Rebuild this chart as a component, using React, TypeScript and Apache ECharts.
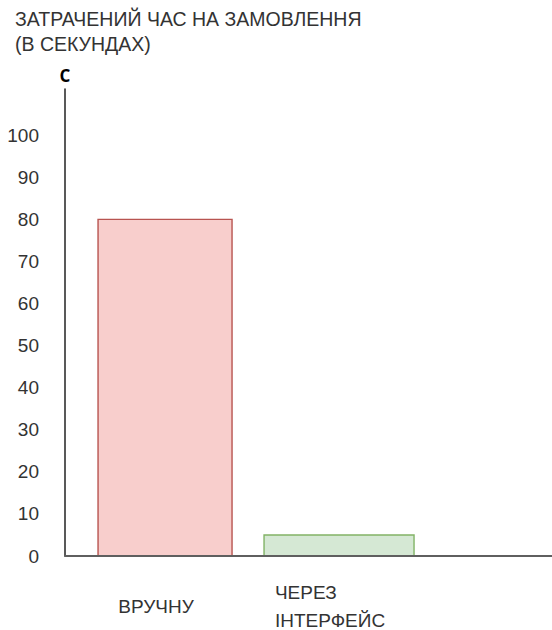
import React, { useEffect, useRef } from "react";
import * as echarts from "echarts";

// Time spent per order, in seconds
const categories = ["ВРУЧНУ", "ЧЕРЕЗ\nІНТЕРФЕЙС"];
const seconds = [80, 5];
const yTickValues = [0, 10, 20, 30, 40, 50, 60, 70, 80, 90, 100];
const titleText = "ЗАТРАЧЕНИЙ ЧАС НА ЗАМОВЛЕННЯ\n(В СЕКУНДАХ)";
const yAxisName = "С";

// Styling for each bar
const BAR_WIDTHS = [134, 150];
const BAR_FILLS = ["#f8cecc", "#d5e8d4"];
const BAR_STROKES = ["#b85450", "#82b366"];

const FONT = "'Liberation Sans', Arial, Helvetica, sans-serif";
const TEXT_COLOR = "#333333";

export default function App() {
  const ref = useRef<HTMLDivElement>(null);

  useEffect(() => {
    if (!ref.current) return;
    const chart = echarts.init(ref.current, null, { renderer: "svg" });

    const data = seconds.map((v, i) => [i, v]);

    chart.setOption({
      animation: false,
      backgroundColor: "#ffffff",
      title: {
        text: titleText,
        left: 15,
        top: 7,
        padding: 0,
        textStyle: {
          fontFamily: FONT,
          fontSize: 19.5,
          fontWeight: "normal",
          color: TEXT_COLOR,
          lineHeight: 24.5,
        },
      },
      grid: {
        left: 65,
        right: 0,
        top: 89,
        bottom: 74,
        containLabel: false,
        outerBoundsMode: "none",
      },
      xAxis: {
        type: "value",
        min: -0.575,
        max: 2.224,
        z: 3,
        axisLine: { show: true, onZero: false, lineStyle: { color: "#5f5f5f", width: 2 } },
        axisTick: { show: false },
        splitLine: { show: false },
        axisLabel: {
          customValues: categories.map((_, i) => i),
          margin: 50,
          verticalAlign: "middle",
          formatter: (v: number) => {
            const name = categories[Math.round(v)] ?? "";
            return name
              .split("\n")
              .map((line) => `{a|${line}}`)
              .join("\n");
          },
          rich: {
            a: {
              align: "left",
              padding: [0, 18, 0, 0],
              fontFamily: FONT,
              fontSize: 19,
              lineHeight: 28,
              color: TEXT_COLOR,
            },
          },
        },
      },
      yAxis: {
        type: "value",
        min: 0,
        max: 111,
        name: yAxisName,
        nameLocation: "end",
        nameGap: 14,
        nameTextStyle: {
          fontFamily: "'Open Sans', 'Noto Sans', sans-serif",
          fontSize: 17,
          fontWeight: "bold",
          color: "#000000",
          align: "center",
          verticalAlign: "middle",
        },
        axisLine: { show: true, onZero: false, lineStyle: { color: "#222222", width: 1.5 } },
        axisTick: { show: false },
        splitLine: { show: false },
        axisLabel: {
          customValues: yTickValues,
          margin: 26,
          fontFamily: FONT,
          fontSize: 19,
          color: TEXT_COLOR,
        },
      },
      series: [
        {
          type: "custom",
          data,
          z: 2,
          renderItem: (params: any, api: any) => {
            const i = params.dataIndex;
            const top = api.coord([api.value(0), api.value(1)]);
            const base = api.coord([api.value(0), 0]);
            const w = BAR_WIDTHS[i];
            return {
              type: "rect",
              shape: {
                x: top[0] - w / 2,
                y: top[1],
                width: w,
                height: base[1] - top[1],
              },
              style: {
                fill: BAR_FILLS[i],
                stroke: BAR_STROKES[i],
                lineWidth: 1.4,
              },
            };
          },
        },
      ],
    });

    return () => chart.dispose();
  }, []);

  return (
    <div
      ref={ref}
      style={{ position: "fixed", left: 0, top: 0, width: 552, height: 630 }}
    />
  );
}
